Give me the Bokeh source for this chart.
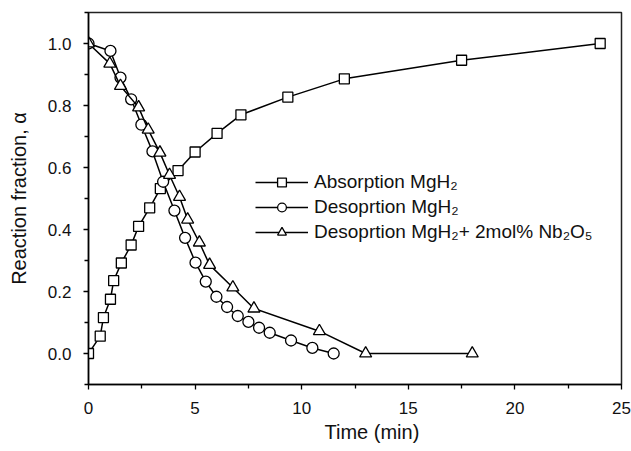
from bokeh.plotting import figure
from bokeh.models import Range1d, Legend, LegendItem, FixedTicker, Title
from bokeh.embed import file_html
from bokeh.resources import INLINE

# Absorption MgH2
abs_t = [0, 0.55, 0.7, 1.03, 1.18, 1.54, 2.0, 2.35, 2.87, 3.37, 4.2, 5.0, 6.03, 7.15, 9.35, 12.0, 17.5, 24.0]
abs_a = [0, 0.056, 0.116, 0.175, 0.235, 0.292, 0.35, 0.41, 0.47, 0.532, 0.59, 0.65, 0.71, 0.77, 0.827, 0.886, 0.946, 1.0]

# Desorption MgH2
des_t = [0, 1.03, 1.5, 2.0, 2.48, 3.0, 3.5, 4.03, 4.53, 5.02, 5.5, 6.0, 6.5, 7.0, 7.5, 8.0, 8.5, 9.5, 10.5, 11.5]
des_a = [1.0, 0.976, 0.89, 0.82, 0.738, 0.652, 0.554, 0.461, 0.373, 0.293, 0.232, 0.183, 0.150, 0.121, 0.102, 0.083, 0.067, 0.042, 0.018, 0.0]

# Desorption MgH2 + 2mol% Nb2O5
nb_t = [0, 1.0, 1.5, 2.35, 2.8, 3.35, 3.8, 4.27, 4.65, 5.2, 5.68, 6.77, 7.76, 10.83, 13.0, 18.0]
nb_a = [1.0, 0.935, 0.863, 0.794, 0.722, 0.648, 0.576, 0.505, 0.432, 0.358, 0.286, 0.213, 0.145, 0.072, 0.0, 0.0]

labels = ["Absorption MgH\u2082", "Desoprtion MgH\u2082", "Desoprtion MgH\u2082+ 2mol% Nb\u2082O\u2085"]
x_ticks = [0, 5, 10, 15, 20, 25]
y_ticks = [0.0, 0.2, 0.4, 0.6, 0.8, 1.0]
x_title = "Time (min)"
y_title = "Reaction fraction, \u03b1"

FONT = "Liberation Sans"

p = figure(width=631, height=451, output_backend="svg", toolbar_location=None,
           x_range=Range1d(0, 25), y_range=Range1d(-0.1, 1.1),
           min_border_left=88, min_border_right=10, min_border_top=12, min_border_bottom=67)

p.grid.visible = False
p.outline_line_color = "#222222"
p.outline_line_width = 1.5
p.background_fill_color = "white"
p.border_fill_color = "white"

for ax in (p.xaxis[0], p.yaxis[0]):
    ax.axis_line_width = 1.5
    ax.axis_line_color = "black"
    ax.major_tick_line_width = 1.3
    ax.minor_tick_line_width = 1.3
    ax.major_tick_out = 5
    ax.major_tick_in = 0
    ax.minor_tick_out = 4
    ax.minor_tick_in = 0
    ax.major_label_text_font = FONT
    ax.major_label_text_font_size = "17px"
    ax.major_label_text_color = "#111111"
    ax.axis_label_text_font = FONT
    ax.axis_label_text_font_size = "20px"
    ax.axis_label_text_font_style = "normal"
    ax.axis_label_text_color = "#111111"

p.xaxis.ticker = FixedTicker(ticks=x_ticks, minor_ticks=[2.5, 7.5, 12.5, 17.5, 22.5])
p.yaxis.ticker = FixedTicker(ticks=y_ticks, minor_ticks=[-0.1, 0.1, 0.3, 0.5, 0.7, 0.9, 1.1])
p.xaxis.major_label_overrides = {t: str(t) for t in x_ticks}
p.yaxis.major_label_overrides = {t: f"{t:.1f}" for t in y_ticks}
p.xaxis.major_label_standoff = 12
p.yaxis.major_label_standoff = 12
p.yaxis.axis_label = y_title
p.yaxis.axis_label_standoff = 15

# x-axis title, slightly right of centre as in the reference
p.add_layout(Title(text=x_title, align="left", offset=236, standoff=5,
                   text_font=FONT, text_font_size="20px", text_font_style="normal",
                   text_color="#111111"), "below")

LW = 1.5
r1l = p.line(abs_t, abs_a, line_color="black", line_width=LW)
r1m = p.scatter(abs_t, abs_a, marker="square", size=10, fill_color="white", line_color="black", line_width=1.3)
r2l = p.line(des_t, des_a, line_color="black", line_width=LW)
r2m = p.scatter(des_t, des_a, marker="circle", size=11, fill_color="white", line_color="black", line_width=1.3)
r3l = p.line(nb_t, nb_a, line_color="black", line_width=LW)
r3m = p.scatter(nb_t, nb_a, marker="triangle", size=12, fill_color="white", line_color="black", line_width=1.3)

legend = Legend(items=[
    LegendItem(label=labels[0], renderers=[r1l, r1m]),
    LegendItem(label=labels[1], renderers=[r2l, r2m]),
    LegendItem(label=labels[2], renderers=[r3l, r3m]),
], location=(167, 141))
legend.border_line_color = None
legend.background_fill_alpha = 0
legend.padding = 0
legend.margin = 0
legend.spacing = 3
legend.glyph_width = 53
legend.glyph_height = 22
legend.label_height = 22
legend.label_standoff = 6
legend.label_text_font = FONT
legend.label_text_font_size = "19px"
legend.label_text_color = "#111111"
p.add_layout(legend, "center")

open("out.html", "w").write(file_html(p, INLINE))
